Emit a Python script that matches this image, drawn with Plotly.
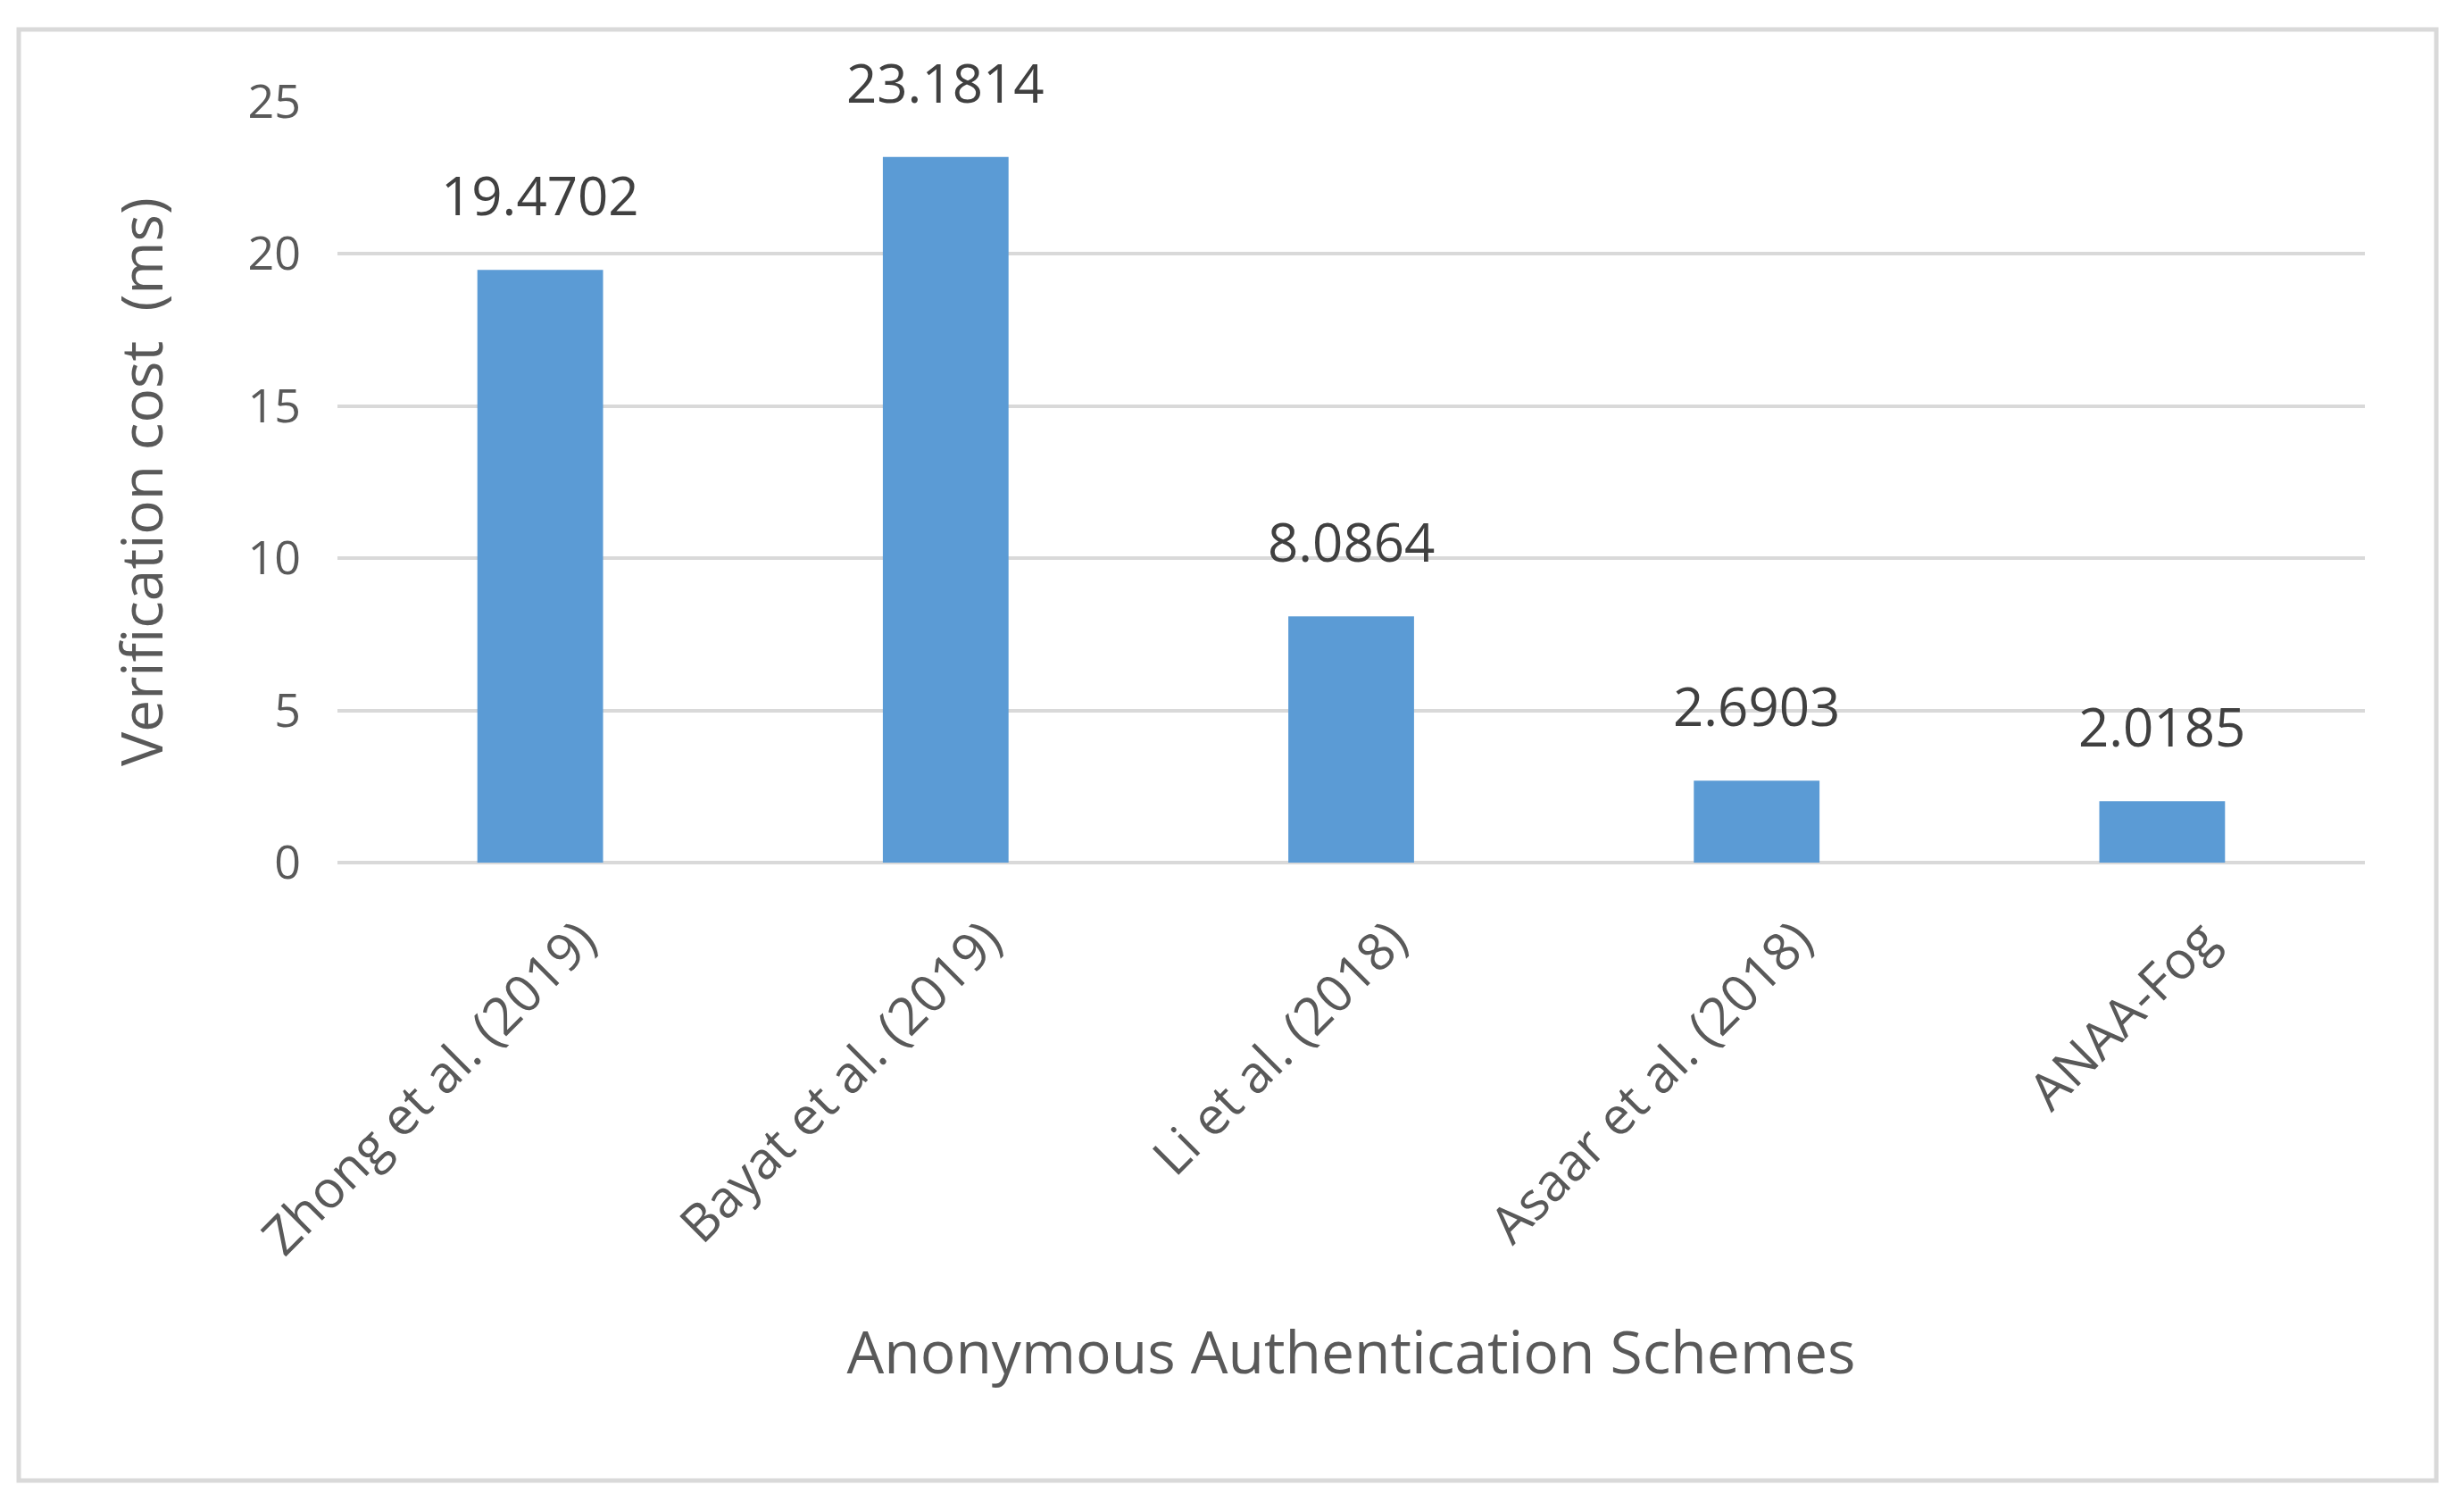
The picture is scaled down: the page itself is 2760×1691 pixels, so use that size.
import plotly.graph_objects as go

categories = ["Zhong et al. (2019)", "Bayat et al. (2019)", "Li et al. (2018)",
              "Asaar et al. (2018)", "ANAA-Fog"]
values = [19.4702, 23.1814, 8.0864, 2.6903, 2.0185]
value_labels = ["19.4702", "23.1814", "8.0864", "2.6903", "2.0185"]
y_ticks = [0, 5, 10, 15, 20, 25]
x_title = "Anonymous Authentication Schemes"
y_title = "Verification cost  (ms)"

W, H = 2760, 1691
L, R, T, B = 378, 2649, 113, 966
pw, ph = R - L, B - T

FONT = "Open Sans, Liberation Sans, sans-serif"
GRID = "#d9d9d9"
TXT = "#595959"

pos = list(range(len(categories)))
LABEL_SHIFT = 0.1  # rotated labels sit slightly right of bar centre

fig = go.Figure()
fig.add_trace(go.Bar(
    x=pos, y=values, marker=dict(color="#5b9bd5", line=dict(width=0)),
    width=0.31, hovertext=categories, hoverinfo="text+y",
))

for p, v, t in zip(pos, values, value_labels):
    fig.add_annotation(x=p, y=v, text=t, showarrow=False, yanchor="middle",
                       yshift=84, font=dict(family=FONT, size=60, color="#404040"))

# outer chart border
fig.add_shape(type="rect", xref="paper", yref="paper",
              x0=(21 - L) / pw, x1=(2729 - L) / pw,
              y0=(B - 1658) / ph, y1=(B - 33) / ph,
              line=dict(color=GRID, width=5), fillcolor="rgba(0,0,0,0)", layer="below")

fig.update_layout(
    width=W, height=H,
    margin=dict(l=L, r=W - R, t=T, b=H - B, autoexpand=False),
    paper_bgcolor="white", plot_bgcolor="white",
    showlegend=False,
    font=dict(family=FONT, color=TXT),
)
fig.update_xaxes(
    type="linear", range=[-0.5, 4.5], tickmode="array",
    tickvals=[p + LABEL_SHIFT for p in pos], ticktext=categories,
    tickangle=-45, showgrid=False, zeroline=False,
    showline=False, ticks="", ticklabelstandoff=40,
    tickfont=dict(family=FONT, size=58, color=TXT),
    title=dict(text=x_title, font=dict(family=FONT, size=66, color=TXT), standoff=72),
    automargin=False,
)
fig.update_yaxes(
    range=[0, 25.02], tickvals=y_ticks, showgrid=True, gridcolor=GRID, gridwidth=4,
    zeroline=True, zerolinecolor=GRID, zerolinewidth=4, showline=False, ticks="",
    ticklabelstandoff=40,
    tickfont=dict(family=FONT, size=52, color=TXT),
    title=dict(text=y_title, font=dict(family=FONT, size=64, color=TXT), standoff=74),
    automargin=False,
)

fig.write_html("out.html", config={"displayModeBar": False},
               post_script="document.body.style.margin='0';")
